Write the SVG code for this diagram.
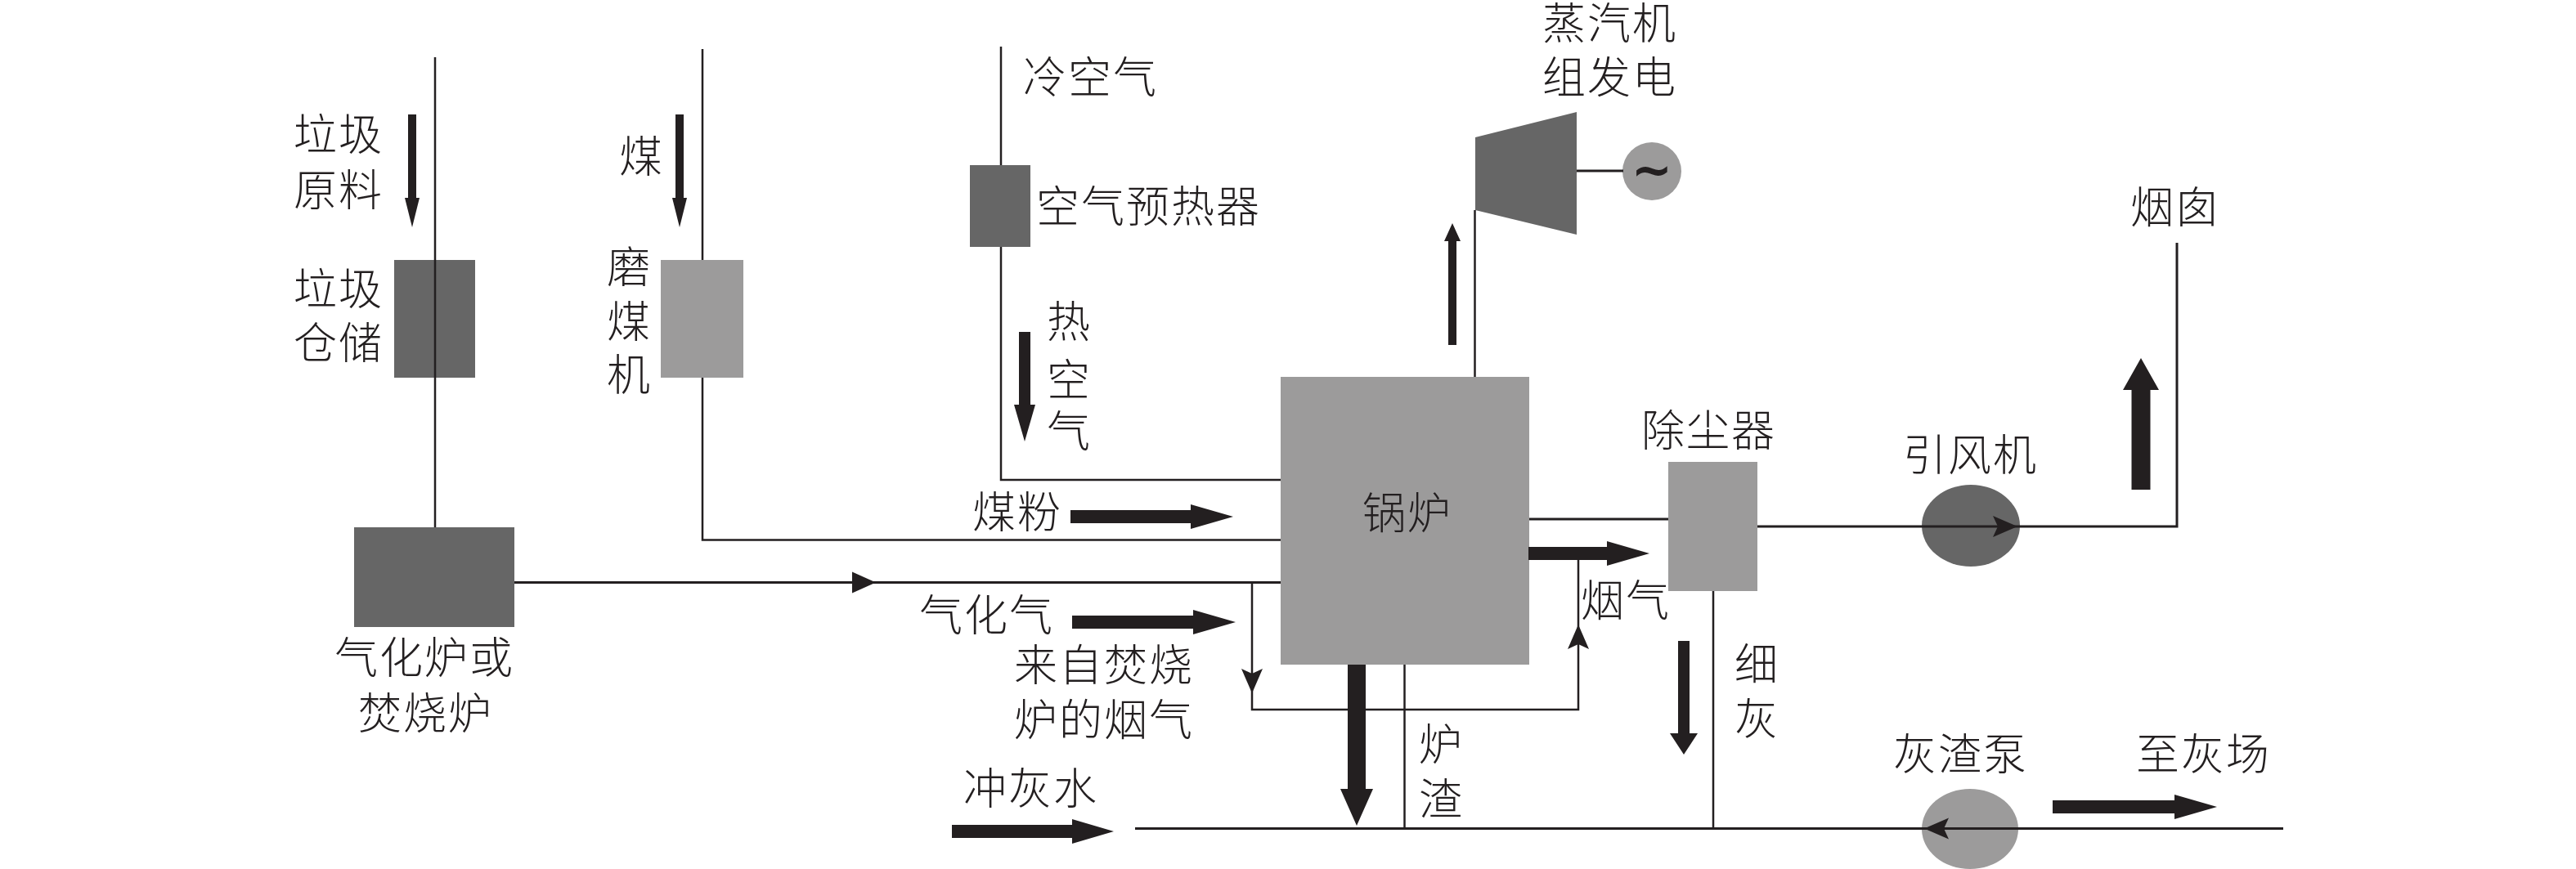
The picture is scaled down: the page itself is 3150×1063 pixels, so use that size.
<svg xmlns="http://www.w3.org/2000/svg" width="3150" height="1063" viewBox="0 0 3150 1063">
<defs>
<style>
.dark{fill:#666666}
.light{fill:#9c9b9b}
.w{fill:none;stroke:#231f20;stroke-width:3;stroke-linejoin:miter}
.t{fill:none;stroke:#231f20;stroke-width:2.5}
.a{fill:#231f20;stroke:none}
text{font-family:"Noto Sans CJK SC","Noto Sans",sans-serif;font-size:53px;font-weight:300;fill:#231f20;letter-spacing:2px}
</style>
<path id="head" d="M0,0 L-29,-13 L-29,13 Z"/>
<path id="headn" d="M0,0 L-30,-13 L-24,0 L-30,13 Z"/>
</defs>
<rect width="3150" height="1063" fill="#ffffff"/>
<g id="waste-storage"><rect class="dark" x="482" y="318" width="99" height="144"/><text x="359" y="184">垃圾</text><text x="359" y="252">原料</text><text x="359" y="373">垃圾</text><text x="359" y="439">仓储</text></g>
<g id="coal-mill"><rect class="light" x="808" y="318" width="101" height="144"/><text x="757" y="211">煤</text><text x="742" y="346">磨</text><text x="742" y="413">煤</text><text x="742" y="478">机</text></g>
<g id="air-preheater"><rect class="dark" x="1186" y="202" width="74" height="100"/><text x="1251" y="114">冷空气</text><text x="1267" y="272">空气预热器</text><text x="1280" y="413">热</text><text x="1280" y="484">空</text><text x="1280" y="547">气</text></g>
<g id="gasifier"><rect class="dark" x="433" y="645" width="196" height="122"/><text x="409" y="824">气化炉或</text><text x="438" y="892">焚烧炉</text></g>
<g id="boiler"><rect class="light" x="1566" y="461" width="304" height="352"/><text x="1666" y="647">锅炉</text></g>
<g id="turbine"><polygon class="dark" points="1804,168 1928,137 1928,287 1804,257"/><text x="1886" y="48">蒸汽机</text><text x="1886" y="114">组发电</text></g>
<g id="generator"><ellipse class="light" cx="2020" cy="209.500" rx="36" ry="35.500"/><text x="2020" y="229" text-anchor="middle" style="font-family:'DejaVu Sans',sans-serif;font-size:60px;font-weight:700;letter-spacing:0">~</text></g>
<g id="dust-collector"><rect class="light" x="2040" y="565" width="109" height="158"/><text x="2007" y="546">除尘器</text></g>
<g id="fan"><ellipse class="dark" cx="2410" cy="643" rx="60" ry="50"/><text x="2327" y="576">引风机</text></g>
<g id="pump"><ellipse class="light" cx="2409" cy="1014" rx="59" ry="49"/><text x="2315" y="942">灰渣泵</text></g>
<g id="chimney"><text x="2605" y="273">烟囱</text></g>
<g id="labels"><text x="1189" y="646">煤粉</text><text x="1124" y="772">气化气</text><text x="1240" y="833">来自焚烧</text><text x="1240" y="900">炉的烟气</text><text x="1178" y="984">冲灰水</text><text x="1735" y="930">炉</text><text x="1735" y="997">渣</text><text x="1933" y="754">烟气</text><text x="2121" y="832">细</text><text x="2121" y="899">灰</text><text x="2612" y="942">至灰场</text></g>
<g id="connectors">
<path class="t" d="M532,70V645"/>
<path class="t" d="M859,60V318M859,462V660.500H1566"/>
<path class="t" d="M1224,57V202M1224,302V587H1566"/>
<path class="w" d="M629,712.500H1566"/>
<path class="t" d="M1531,712.500V868H1930V677"/>
<path class="t" d="M1717.500,813V1013"/>
<path class="w" d="M1388,1013.500H2792"/>
<path class="w" d="M1870,635H2040"/>
<path class="w" d="M2149,644H2662V297"/>
<path class="t" d="M2095,723V1013"/>
<path class="t" d="M1803.500,257V461"/>
<path class="w" d="M1928,209H1985"/>
<use class="a" href="#head" transform="translate(1071,712.500)"/>
<use class="a" href="#headn" transform="translate(1531,848) rotate(90)"/>
<use class="a" href="#headn" transform="translate(1930,764) rotate(-90)"/>
<use class="a" href="#headn" transform="translate(2467,644)"/>
<use class="a" href="#headn" transform="translate(2353,1013.500) rotate(180)"/>
<polygon class="a" points="499,140 509,140 509,242 513,242 504,278 495,242 499,242"/>
<polygon class="a" points="826,140 836,140 836,242 840,242 831,278 822,242 826,242"/>
<polygon class="a" points="1246,406 1260,406 1260,495 1266,495 1253,540 1240,495 1246,495"/>
<polygon class="a" points="1771,422 1781,422 1781,295 1786,295 1776,273 1766,295 1771,295"/>
<polygon class="a" points="2052,784 2066,784 2066,897 2076,897 2059,923 2042,897 2052,897"/>
<polygon class="a" points="1648,813 1670,813 1670,965 1679,965 1659,1010 1639,965 1648,965"/>
<polygon class="a" points="2606.500,599 2629.500,599 2629.500,477 2640,477 2618,438 2596,477 2606.500,477"/>
<polygon class="a" points="1309,624 1456,624 1456,617 1508,632 1456,647 1456,640 1309,640"/>
<polygon class="a" points="1311,753 1459,753 1459,746 1511,761 1459,776 1459,769 1311,769"/>
<polygon class="a" points="1869,669 1965,669 1965,662 2017,677 1965,692 1965,685 1869,685"/>
<polygon class="a" points="1164,1009 1311,1009 1311,1002 1362,1017 1311,1032 1311,1025 1164,1025"/>
<polygon class="a" points="2510,979 2659,979 2659,972 2711,987 2659,1002 2659,995 2510,995"/>
</g>
</svg>
